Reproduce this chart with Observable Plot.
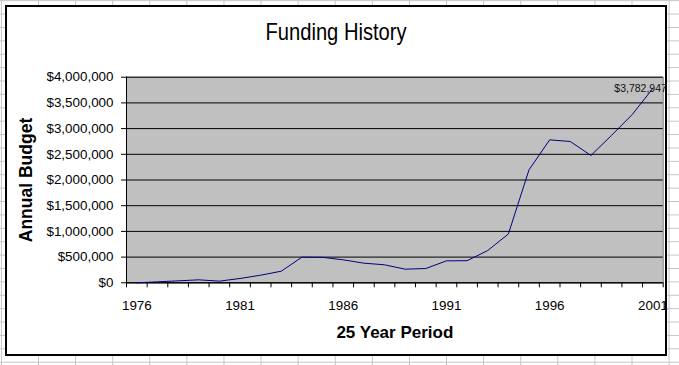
<!DOCTYPE html>
<html><head><meta charset="utf-8">
<script src="https://cdn.jsdelivr.net/npm/d3@7"></script>
<script src="https://cdn.jsdelivr.net/npm/@observablehq/plot@0.6"></script>
<style>
html,body{margin:0;padding:0;width:679px;height:365px;overflow:hidden;background:#fff;}
#grid{position:absolute;left:0;top:0;width:679px;height:365px;
  background-image:linear-gradient(to right,#c4c4c4 1px,transparent 1px),linear-gradient(to bottom,#c4c4c4 1px,transparent 1px);
  background-size:37.1px 13.4px;background-position:38px 0.2px;}
#chart{position:absolute;left:5px;top:5px;width:658px;height:347px;border:2px solid #000;background:#fff;}
#title{height:55px;box-sizing:border-box;padding-top:13px;line-height:24px;text-align:center;
  font-family:"Liberation Sans",Arial,sans-serif;font-size:24px;color:#000;}
#title span{display:inline-block;transform:scaleX(0.84);}
#plot svg{display:block;}
</style></head>
<body>
<div id="grid"></div>
<div id="chart"><div id="title"><span>Funding History</span></div><div id="plot"></div></div>
<script>
const years = [1976,1977,1978,1979,1980,1981,1982,1983,1984,1985,1986,1987,1988,1989,1990,1991,1992,1993,1994,1995,1996,1997,1998,1999,2000,2001];
const budget = [0,19000,38000,58000,32000,84000,148000,226000,499000,495000,447000,382000,350000,265000,278000,427000,430000,628000,950000,2198000,2781000,2749000,2477000,2870000,3274000,3782947];
const xTickLabels = [1976,1981,1986,1991,1996,2001];
const yTicks = [0,500000,1000000,1500000,2000000,2500000,3000000,3500000,4000000];
const xTitle = "25 Year Period";
const yTitle = "Annual Budget";

const data = years.map((y,i)=>({year:y, value:budget[i]}));
const last = data[data.length-1];
const money = d => "$" + d3.format(",")(d);
const boundaries = d3.range(years[0]-0.5, years[years.length-1]+1, 1);
const yMid = (yTicks[0] + yTicks[yTicks.length-1]) / 2;

const chart = Plot.plot({
  width: 658, height: 292,
  marginLeft: 119, marginRight: 2.3, marginTop: 14.7, marginBottom: 71.7,
  style: {fontFamily: "'Liberation Sans', Arial, sans-serif", fontSize: "13.4px", color: "#000", background: "transparent", overflow: "visible"},
  x: {domain: [years[0]-0.5, years[years.length-1]+0.5]},
  y: {domain: [0, 4000000]},
  marks: [
    Plot.frame({fill: "#c0c0c0", stroke: "#808080"}),
    Plot.ruleY(yTicks, {stroke: "#000"}),
    Plot.axisY({ticks: yTicks, tickFormat: money, tickSize: 5, tickPadding: 8, label: null}),
    Plot.axisX({ticks: boundaries, tickSize: 5, tickFormat: () => "", label: null}),
    Plot.axisX({ticks: xTickLabels, tickSize: 0, tickPadding: 18, tickFormat: d => String(d), label: null}),
    Plot.ruleX([years[0]-0.5], {stroke: "#000"}),
    Plot.ruleY([0], {stroke: "#000"}),
    Plot.line(data, {x: "year", y: "value", stroke: "#000080", strokeWidth: 1}),
    Plot.text([last], {x: "year", y: "value", text: d => money(d.value), textAnchor: "end", dx: 14, dy: 0, fontSize: 10.5, fill: "#111"}),
    Plot.text([xTitle], {text: d => d, frameAnchor: "bottom", dy: 55.5, fontWeight: "bold", fontSize: 17}),
    Plot.text([yTitle], {text: d => d, x: () => years[0]-0.5, y: () => yMid, dx: -100, rotate: -90, fontWeight: "bold", fontSize: 17.5})
  ]
});
document.getElementById("plot").appendChild(chart);
</script>
</body></html>
